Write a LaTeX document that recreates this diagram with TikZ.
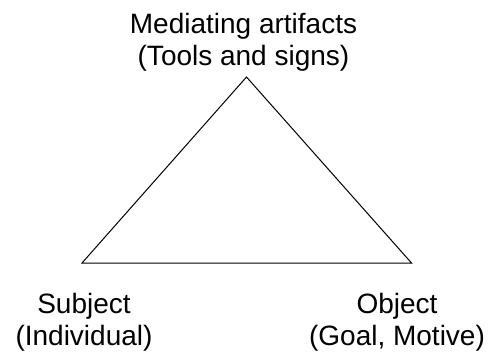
\documentclass[tikz,border=0pt]{standalone}
\usepackage{fontspec}
\setmainfont{Liberation Sans}
\usepackage{tikz}
\usetikzlibrary{positioning}

\begin{document}
\begin{tikzpicture}[
  x=1pt, y=-1pt,
  lbl/.style={align=center, inner sep=0pt, anchor=base,
              font=\fontsize{28}{32}\selectfont},
  edge/.style={draw, line width=1pt, line join=miter}
]
  \useasboundingbox (0,0) rectangle (489,351);
  \coordinate (tool) at (246.5,77);
  \coordinate (subj) at (82,263);
  \coordinate (obj) at (411.5,263);

  \node[lbl] (toollbl) at (243.5,65) {Mediating artifacts\\(Tools and signs)};
  \node[lbl] (subjlbl) at (84,345) {Subject\\(Individual)};
  \node[lbl] (objlbl) at (397,345) {Object\\(Goal, Motive)};

  \draw[edge] (tool) -- (subj) -- (obj) -- cycle;
\end{tikzpicture}
\end{document}
